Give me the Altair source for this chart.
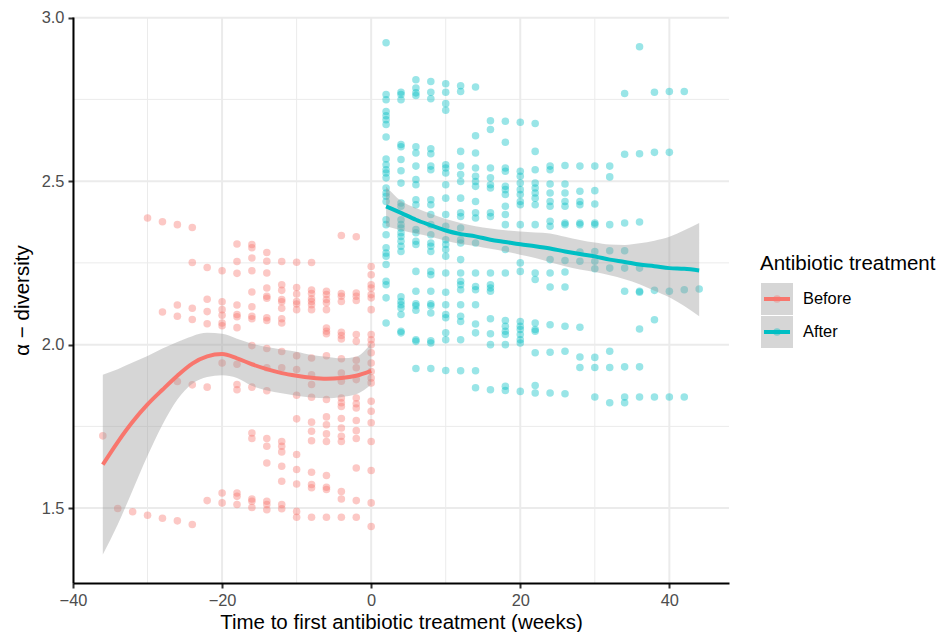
import altair as alt
import pandas as pd

# ---------------- data ----------------
before_weeks = [-36, -34, -32, -30, -28, -26, -24, -22, -20, -18, -16, -14, -12, -10, -8, -6, -4, -2, 0]
before_alpha = [
    [1.721],
    [1.499],
    [1.489],
    [2.387, 1.478],
    [2.376, 2.100, 1.469],
    [2.367, 2.121, 2.087, 1.887, 1.461],
    [2.358, 2.251, 2.111, 2.077, 1.877, 1.450],
    [2.236, 2.139, 2.101, 2.064, 1.870, 1.523],
    [2.226, 2.131, 2.107, 2.090, 2.066, 2.058, 1.944, 1.546, 1.516],
    [2.308, 2.254, 2.218, 2.121, 2.092, 2.085, 2.052, 1.940, 1.878, 1.862, 1.546, 1.536, 1.511],
    [2.306, 2.296, 2.265, 2.226, 2.161, 2.116, 2.087, 2.079, 1.997, 1.870, 1.730, 1.713, 1.528, 1.521, 1.502],
    [2.282, 2.255, 2.219, 2.173, 2.148, 2.142, 2.082, 2.074, 1.988, 1.929, 1.859, 1.713, 1.689, 1.638, 1.521, 1.511, 1.495],
    [2.254, 2.183, 2.166, 2.138, 2.131, 2.111, 2.079, 2.066, 1.979, 1.929, 1.704, 1.689, 1.672, 1.628, 1.582, 1.511, 1.498],
    [2.252, 2.175, 2.155, 2.132, 2.124, 2.107, 1.966, 1.924, 1.845, 1.773, 1.664, 1.618, 1.574, 1.490, 1.472],
    [2.251, 2.167, 2.156, 2.140, 2.132, 2.122, 2.107, 1.959, 1.908, 1.878, 1.839, 1.763, 1.735, 1.706, 1.610, 1.572, 1.562, 1.472],
    [2.163, 2.153, 2.138, 2.128, 2.107, 2.051, 2.041, 2.033, 1.966, 1.832, 1.779, 1.755, 1.727, 1.704, 1.600, 1.564, 1.557, 1.472],
    [2.334, 2.156, 2.148, 2.132, 2.038, 2.028, 2.017, 1.957, 1.913, 1.888, 1.837, 1.822, 1.811, 1.774, 1.745, 1.720, 1.704, 1.551, 1.528, 1.472],
    [2.330, 2.158, 2.148, 2.135, 2.031, 2.010, 1.952, 1.929, 1.893, 1.837, 1.819, 1.806, 1.768, 1.737, 1.713, 1.623, 1.523, 1.472],
    [2.239, 2.214, 2.183, 2.173, 2.153, 2.143, 2.107, 2.031, 2.015, 2.000, 1.975, 1.944, 1.918, 1.898, 1.883, 1.827, 1.796, 1.761, 1.704, 1.615, 1.516, 1.444],
]

after_weeks = [2, 4, 6, 8, 10, 12, 14, 16, 18, 20, 22, 24, 26, 28, 30, 32, 34, 36, 38, 40, 42, 44]
after_alpha = [
    [2.923, 2.765, 2.749, 2.713, 2.700, 2.688, 2.673, 2.635, 2.568, 2.550, 2.535, 2.525, 2.510, 2.479, 2.464, 2.454, 2.438,
     2.382, 2.367, 2.336, 2.296, 2.280, 2.270, 2.245, 2.194, 2.183, 2.143, 2.066],
    [2.772, 2.765, 2.749, 2.612, 2.605, 2.566, 2.532, 2.494, 2.433, 2.423, 2.382, 2.367, 2.357, 2.342, 2.331, 2.316, 2.301,
     2.285, 2.146, 2.132, 2.122, 2.112, 2.092, 2.041, 2.036],
    [2.810, 2.785, 2.770, 2.762, 2.605, 2.586, 2.546, 2.505, 2.489, 2.443, 2.428, 2.352, 2.342, 2.316, 2.306, 2.224, 2.163,
     2.125, 2.119, 2.105, 2.015, 2.010, 1.927],
    [2.805, 2.772, 2.752, 2.599, 2.584, 2.546, 2.535, 2.443, 2.428, 2.398, 2.367, 2.336, 2.311, 2.301, 2.285, 2.224, 2.214,
     2.163, 2.125, 2.119, 2.097, 2.012, 2.005, 1.927],
    [2.798, 2.772, 2.737, 2.717, 2.550, 2.540, 2.525, 2.489, 2.448, 2.398, 2.362, 2.321, 2.306, 2.291, 2.270, 2.219, 2.160,
     2.122, 2.092, 2.082, 2.036, 2.015, 1.921],
    [2.792, 2.774, 2.591, 2.546, 2.520, 2.499, 2.448, 2.403, 2.392, 2.357, 2.321, 2.311, 2.260, 2.219, 2.194, 2.183, 2.168,
     2.122, 2.087, 2.071, 2.015, 1.920],
    [2.788, 2.639, 2.586, 2.540, 2.515, 2.499, 2.484, 2.438, 2.403, 2.387, 2.311, 2.219, 2.178, 2.168, 2.122, 2.063, 2.036,
     1.920, 1.868],
    [2.685, 2.658, 2.540, 2.510, 2.489, 2.479, 2.403, 2.392, 2.219, 2.183, 2.173, 2.163, 2.079, 2.033, 2.000, 1.862],
    [2.683, 2.619, 2.540, 2.530, 2.484, 2.474, 2.459, 2.423, 2.398, 2.367, 2.291, 2.219, 2.074, 2.056, 2.041, 2.031, 2.000,
     1.873, 1.860],
    [2.680, 2.530, 2.515, 2.494, 2.474, 2.459, 2.438, 2.428, 2.367, 2.250, 2.224, 2.071, 2.056, 2.046, 2.031, 2.015, 2.005,
     1.857],
    [2.676, 2.591, 2.535, 2.494, 2.479, 2.464, 2.448, 2.428, 2.367, 2.219, 2.199, 2.066, 2.046, 2.041, 1.975, 1.875, 1.852],
    [2.546, 2.535, 2.491, 2.464, 2.438, 2.423, 2.377, 2.362, 2.260, 2.219, 2.176, 2.061, 1.977, 1.852],
    [2.548, 2.491, 2.464, 2.438, 2.423, 2.372, 2.367, 2.257, 2.222, 2.176, 2.056, 1.980, 1.850],
    [2.546, 2.469, 2.438, 2.428, 2.372, 2.367, 2.283, 2.255, 2.053, 1.962, 1.930],
    [2.546, 2.471, 2.430, 2.372, 2.367, 2.285, 2.255, 2.232, 1.961, 1.930, 1.840],
    [2.546, 2.513, 2.367, 2.287, 2.234, 1.980, 1.930, 1.822],
    [2.768, 2.582, 2.372, 2.287, 2.234, 2.163, 1.932, 1.840, 1.822],
    [2.911, 2.584, 2.375, 2.234, 2.163, 2.160, 2.048, 1.932, 1.840],
    [2.772, 2.588, 2.166, 2.076, 1.840],
    [2.774, 2.588, 2.163, 1.840],
    [2.774, 2.168, 1.840],
    [2.170],
]

# smoothed fits with confidence band
fit_before_weeks = [-36, -34, -32, -30, -28, -26, -24, -22, -20, -18, -16, -14, -12, -10, -8, -6, -4, -2, 0]
fit_before = [1.633, 1.702, 1.764, 1.817, 1.862, 1.905, 1.942, 1.964, 1.971, 1.958, 1.940, 1.925, 1.913, 1.905, 1.899, 1.896, 1.898, 1.905, 1.920]
fit_before_lo = [1.358, 1.450, 1.555, 1.660, 1.755, 1.832, 1.880, 1.901, 1.906, 1.898, 1.874, 1.860, 1.851, 1.844, 1.838, 1.836, 1.840, 1.848, 1.878]
fit_before_hi = [1.908, 1.925, 1.945, 1.965, 1.988, 2.008, 2.026, 2.036, 2.033, 2.018, 2.003, 1.993, 1.985, 1.978, 1.968, 1.963, 1.958, 1.963, 2.005]

fit_after_weeks = [2, 4, 6, 8, 10, 12, 14, 16, 18, 20, 22, 24, 26, 28, 30, 32, 34, 36, 38, 40, 42, 44]
fit_after = [2.423, 2.403, 2.382, 2.365, 2.349, 2.338, 2.331, 2.321, 2.314, 2.307, 2.301, 2.294, 2.285, 2.277, 2.270, 2.260, 2.253, 2.245, 2.240, 2.234, 2.232, 2.227]
fit_after_lo = [2.362, 2.350, 2.340, 2.330, 2.318, 2.308, 2.302, 2.293, 2.285, 2.275, 2.265, 2.252, 2.240, 2.230, 2.222, 2.212, 2.200, 2.185, 2.165, 2.145, 2.118, 2.087]
fit_after_hi = [2.484, 2.440, 2.418, 2.400, 2.384, 2.372, 2.362, 2.355, 2.350, 2.346, 2.343, 2.340, 2.330, 2.320, 2.312, 2.306, 2.305, 2.310, 2.318, 2.330, 2.350, 2.372]

groups = ["Before", "After"]
group_colors = ["#F8766D", "#00BFC4"]

x_major = [-40, -20, 0, 20, 40]
x_minor = [-30, -10, 10, 30]
y_major = [1.5, 2.0, 2.5, 3.0]
y_minor = [1.75, 2.25, 2.75]

legend_title = "Antibiotic treatment"
x_title = "Time to first antibiotic treatment (weeks)"
y_title = "\u03b1 \u2212 diversity"

# ---------------- tables ----------------
rows = []
for g, weeks, vals in (("Before", before_weeks, before_alpha), ("After", after_weeks, after_alpha)):
    for w, col in zip(weeks, vals):
        for v in col:
            rows.append({"week": w, "alpha": v, "group": g})
points = pd.DataFrame(rows)

fits = pd.concat([
    pd.DataFrame({"week": fit_before_weeks, "alpha": fit_before, "lo": fit_before_lo, "hi": fit_before_hi, "group": "Before"}),
    pd.DataFrame({"week": fit_after_weeks, "alpha": fit_after, "lo": fit_after_lo, "hi": fit_after_hi, "group": "After"}),
])

# ---------------- layout ----------------
W, H = 656, 566
LEFT, TOP = 73, 17
FONT = "Liberation Sans"

xs = alt.Scale(domain=[-40, 48], nice=False, zero=False)
ys = alt.Scale(domain=[1.271, 3.002], nice=False, zero=False)

x_axis = alt.Axis(values=x_major, title=x_title, grid=False, labelFlush=False, labelOverlap=False, zindex=2,
                  tickSize=5, tickWidth=2, tickColor="#333333", labelPadding=4,
                  labelFontSize=16.4, labelColor="#4D4D4D", labelFont=FONT,
                  domainColor="#000000", domainWidth=2,
                  titleFont=FONT, titleFontSize=20.5, titleFontWeight="normal", titleColor="#000000",
                  titleX=W / 2, titleY=39, titleBaseline="middle", titleAnchor="middle")
y_axis = alt.Axis(values=y_major, format=".1f", title=y_title, grid=False, labelOverlap=False, zindex=2,
                  tickSize=5, tickWidth=2, tickColor="#333333", labelPadding=4,
                  labelFontSize=16.4, labelColor="#4D4D4D", labelFont=FONT,
                  domainColor="#000000", domainWidth=2,
                  titleFont=FONT, titleFontSize=20.5, titleFontWeight="normal", titleColor="#000000",
                  titleX=22 - LEFT, titleY=H / 2, titleAngle=-90, titleAlign="center", titleBaseline="middle")

X = alt.X("week:Q", scale=xs, axis=x_axis)
Y = alt.Y("alpha:Q", scale=ys, axis=y_axis)
color = alt.Color("group:N", scale=alt.Scale(domain=groups, range=group_colors), legend=None)

grid_col = "#EBEBEB"
gx_minor = alt.Chart(pd.DataFrame({"week": x_minor})).mark_rule(color=grid_col, strokeWidth=1).encode(x=X)
gy_minor = alt.Chart(pd.DataFrame({"alpha": y_minor})).mark_rule(color=grid_col, strokeWidth=1).encode(y=Y)
gx_major = alt.Chart(pd.DataFrame({"week": x_major})).mark_rule(color=grid_col, strokeWidth=2).encode(x=X)
gy_major = alt.Chart(pd.DataFrame({"alpha": y_major})).mark_rule(color=grid_col, strokeWidth=2).encode(y=Y)

pts = alt.Chart(points).mark_circle(size=57, opacity=0.4, strokeWidth=0).encode(x=X, y=Y, color=color)

band = alt.Chart(fits).mark_area(color="#999999", opacity=0.4, interpolate="monotone").encode(
    x=X, y=alt.Y("lo:Q", scale=ys, axis=y_axis), y2="hi:Q", detail="group:N")

lines = alt.Chart(fits).mark_line(strokeWidth=4, interpolate="monotone").encode(
    x=X, y=Y, color=color, detail="group:N")

# ---------------- legend (drawn beside the panel) ----------------
leg_layers = []
key_left, key_size = 761 - LEFT, 32
key_tops = [283 - TOP, 316 - TOP]
for lab, col, kt in zip(groups, group_colors, key_tops):
    d = pd.DataFrame({"label": [lab]})
    leg_layers.append(alt.Chart(d).mark_rect(color="#D6D6D6").encode(
        x=alt.value(key_left), x2=alt.value(key_left + key_size),
        y=alt.value(kt), y2=alt.value(kt + key_size)))
    leg_layers.append(alt.Chart(d).mark_rule(color=col, strokeWidth=4).encode(
        x=alt.value(key_left + 3), x2=alt.value(key_left + key_size - 3),
        y=alt.value(kt + key_size / 2)))
    leg_layers.append(alt.Chart(d).mark_circle(color=col, size=57, opacity=0.4).encode(
        x=alt.value(key_left + key_size / 2), y=alt.value(kt + key_size / 2)))
    leg_layers.append(alt.Chart(d).mark_text(align="left", baseline="middle", font=FONT,
                                             fontSize=16.4, color="#000000").encode(
        text="label:N", x=alt.value(key_left + key_size + 10), y=alt.value(kt + key_size / 2)))
leg_layers.append(alt.Chart(pd.DataFrame({"label": [legend_title]})).mark_text(
    align="left", baseline="middle", font=FONT, fontSize=20.5, color="#000000").encode(
    text="label:N", x=alt.value(760 - LEFT), y=alt.value(264 - TOP)))

chart = alt.layer(gx_minor, gy_minor, gx_major, gy_major, pts, band, lines, *leg_layers).properties(
    width=W, height=H,
    autosize=alt.AutoSizeParams(type="none"),
    padding={"left": LEFT, "top": TOP, "right": 938 - LEFT - W, "bottom": 632 - TOP - H},
    background="white",
).configure_view(stroke=None)

chart.save("out.html", embed_options={"renderer": "svg", "actions": False})
